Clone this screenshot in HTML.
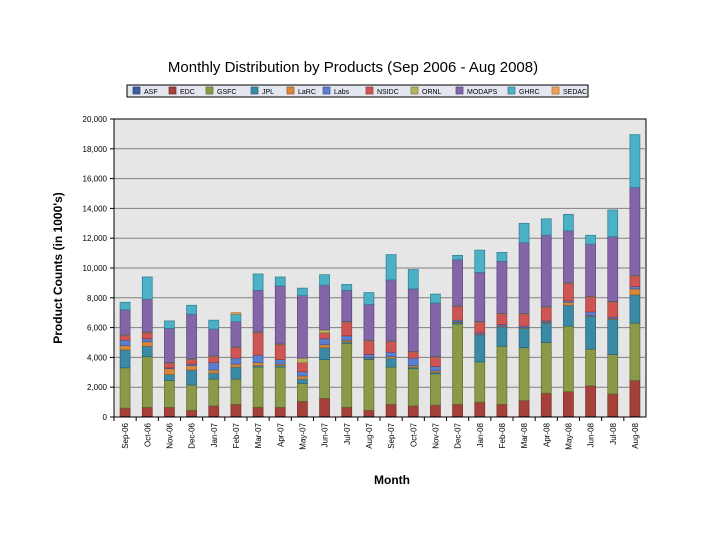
<!DOCTYPE html>
<html><head><meta charset="utf-8"><style>
body{margin:0;background:#fff;}
svg text{font-family:"Liberation Sans",Arial,sans-serif;}
</style></head><body>
<svg id="c" width="720" height="540" xmlns="http://www.w3.org/2000/svg">
<text x="353" y="72" text-anchor="middle" font-size="15">Monthly Distribution by Products (Sep 2006 - Aug 2008)</text>
<g id="legend"></g>
<rect x="114" y="119" width="532" height="298" fill="#e6e6e6" stroke="#000" stroke-width="1"/>
<g id="grid"></g><g id="bars"></g><g id="axes"></g>
<text transform="translate(62,268) rotate(-90)" text-anchor="middle" font-size="12" font-weight="bold">Product Counts (in 1000's)</text>
<text x="392" y="484" text-anchor="middle" font-size="12" font-weight="bold">Month</text>
</svg>
<script>
const months=["Sep-06","Oct-06","Nov-06","Dec-06","Jan-07","Feb-07","Mar-07","Apr-07","May-07","Jun-07","Jul-07","Aug-07","Sep-07","Oct-07","Nov-07","Dec-07","Jan-08","Feb-08","Mar-08","Apr-08","May-08","Jun-08","Jul-08","Aug-08"];
const seriesNames=["ASF","EDC","GSFC","JPL","LaRC","Labs","NSIDC","ORNL","MODAPS","GHRC","SEDAC"];
const seriesColors=["#3b5ea0","#a5403a","#8a9a48","#3a8aa5","#d8873a","#5a7ed0","#cf5555","#b7b35a","#8366a8","#4bb1c6","#f0a055"];
const ASF=[0.05,0.05,0.05,0.05,0.05,0.05,0.05,0.05,0.05,0.05,0.05,0.05,0.05,0.05,0.05,0.05,0.05,0.05,0.05,0.05,0.05,0.05,0.05,0.05];
const EDC=[0.55,0.6,0.6,0.4,0.7,0.8,0.6,0.6,1.0,1.2,0.6,0.4,0.8,0.7,0.75,0.8,0.95,0.8,1.05,1.55,1.65,2.05,1.5,2.4];
const GSFC=[2.7,3.4,1.8,1.7,1.8,1.7,2.7,2.7,1.2,2.6,4.3,3.4,2.5,2.5,2.1,5.4,2.7,3.9,3.55,3.4,4.4,2.45,2.65,3.85];
const JPL=[1.2,0.7,0.4,1.0,0.4,0.8,0.1,0.1,0.3,0.8,0.1,0.1,0.6,0.1,0.1,0.1,1.8,1.3,1.3,1.3,1.4,2.2,2.35,1.9];
const LaRC=[0.3,0.3,0.4,0.3,0.2,0.2,0.2,0.1,0.2,0.2,0.1,0.05,0.1,0.1,0.1,0.05,0.05,0.05,0.05,0.05,0.2,0.05,0.05,0.4];
const Labs=[0.35,0.2,0.05,0.1,0.5,0.4,0.5,0.3,0.3,0.4,0.3,0.2,0.3,0.5,0.3,0.1,0.1,0.1,0.1,0.1,0.1,0.25,0.1,0.15];
const NSIDC=[0.3,0.4,0.3,0.3,0.4,0.7,1.5,1.0,0.6,0.4,0.9,0.9,0.7,0.4,0.6,0.9,0.7,0.7,0.8,0.9,1.15,1.0,1.0,0.7];
const ORNL=[0.05,0.05,0.05,0.05,0.05,0.05,0.05,0.05,0.3,0.2,0.05,0.05,0.05,0.05,0.05,0.05,0.05,0.05,0.05,0.05,0.05,0.05,0.05,0.05];
const MODAPS=[1.7,2.2,2.3,3.0,1.8,1.7,2.8,3.9,4.2,3.0,2.1,2.4,4.1,4.2,3.6,3.1,3.3,3.5,4.75,4.8,3.5,3.5,4.35,5.9];
const GHRC=[0.5,1.5,0.5,0.6,0.6,0.5,1.1,0.6,0.5,0.7,0.4,0.8,1.7,1.3,0.6,0.3,1.5,0.6,1.3,1.1,1.1,0.6,1.8,3.55];
const SEDAC=[0,0,0,0,0,0.1,0,0,0,0,0,0,0,0,0,0,0,0,0,0,0,0,0,0];
const yTicks=[0,2000,4000,6000,8000,10000,12000,14000,16000,18000,20000];
const allSeries=[ASF,EDC,GSFC,JPL,LaRC,Labs,NSIDC,ORNL,MODAPS,GHRC,SEDAC];
const NS="http://www.w3.org/2000/svg";
const X0=114,X1=646,Y0=417,Y1=119,YMAX=20000;
const y=v=>Y0-(v/YMAX)*(Y0-Y1);
const step=(X1-X0)/months.length;
const xc=i=>X0+step*(i+0.5);
function mk(tag,attrs,parent){const e=document.createElementNS(NS,tag);for(const k in attrs)e.setAttribute(k,attrs[k]);parent.appendChild(e);return e;}
function darken(h){const n=parseInt(h.slice(1),16);const r=(n>>16)*0.7|0,g=((n>>8)&255)*0.7|0,b=(n&255)*0.7|0;return `rgb(${r},${g},${b})`;}
const grid=document.getElementById('grid'),axes=document.getElementById('axes'),bars=document.getElementById('bars'),leg=document.getElementById('legend');
yTicks.forEach(t=>{
  if(t>0&&t<YMAX){const l=mk('line',{x1:X0,x2:X1,y1:y(t),y2:y(t),stroke:'#808080','stroke-width':1},grid);
  
  }
  const tk=mk('line',{x1:X0-4,x2:X0,y1:y(t),y2:y(t),stroke:'#000'},axes);
  
  
  const tx=mk('text',{x:X0-7,y:y(t)+3,'text-anchor':'end','font-size':8},axes);
  tx.textContent=t.toLocaleString('en-US');
  
  
});
months.forEach((m,i)=>{
  const tk=mk('line',{x1:X0+step*i,x2:X0+step*i,y1:Y0,y2:Y0+4,stroke:'#000'},axes);
  
  
  const tx=mk('text',{transform:`translate(${xc(i)+3},${Y0+6}) rotate(-90)`,'text-anchor':'end','font-size':8},axes);
  tx.textContent=m;
  
  
  let cum=0;
  allSeries.forEach((s,k)=>{
    const v=s[i]*1000;if(v<=0)return;
    const r=mk('rect',{x:xc(i)-5,y:y(cum+v),width:10,height:Math.max(0.5,y(cum)-y(cum+v)),fill:seriesColors[k],stroke:darken(seriesColors[k]),'stroke-width':0.7},bars);
    
    
    cum+=v;
  });
});
mk('line',{x1:X0,x2:X0,y1:Y1,y2:Y0,stroke:'#000'},axes);
mk('line',{x1:X0,x2:X1,y1:Y0,y2:Y0,stroke:'#000'},axes);
const lb=mk('rect',{x:127,y:85,width:461,height:12,fill:'#e4e6f0',stroke:'#000','stroke-width':1},leg);
const lx=[133,169,206,251,287,323,366,411,456,508,552];
seriesNames.forEach((n,k)=>{
  const g=mk('g',{},leg);
  
  
  mk('rect',{x:lx[k],y:87,width:7,height:7,fill:seriesColors[k],stroke:darken(seriesColors[k]),'stroke-width':0.7},g);
  const t=mk('text',{x:lx[k]+11,y:94,'font-size':7},g);t.textContent=n;
});
</script>
</body></html>
